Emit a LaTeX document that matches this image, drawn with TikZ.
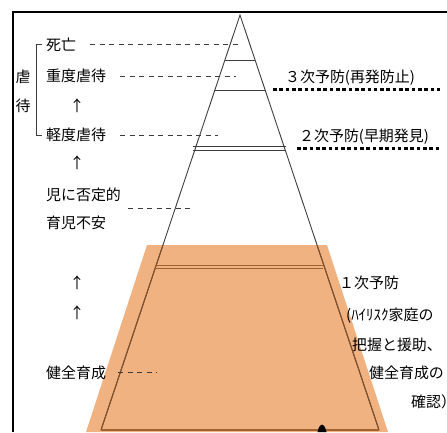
\documentclass[tikz,border=0pt]{standalone}
\usepackage{fontspec}
\setmainfont{Noto Sans CJK JP}
\definecolor{orangefill}{RGB}{240,178,128}
\definecolor{brownline}{RGB}{160,98,48}
\definecolor{edgebrown}{RGB}{130,80,42}
\definecolor{darkline}{RGB}{60,60,60}
\begin{document}
\begin{tikzpicture}[x=1bp,y=-1bp,
  lbl/.style={font=\fontsize{15}{15}\selectfont, inner sep=0pt, anchor=west, text height=13.2bp, text depth=1.8bp},
  guide/.style={dash pattern=on 5bp off 4.5bp, line width=0.8bp, darkline},
  level/.style={dash pattern=on 3.6bp off 2.7bp, line width=3bp, black},
  tri/.style={line width=0.9bp, darkline},
  frame/.style={line width=1.1bp, black}]
\useasboundingbox (0,0) rectangle (447,432);
% frame
\draw[frame] (13,432) -- (13,12) -- (447,12);
% orange base
\fill[orangefill] (147,245) -- (327,245) -- (388,432) -- (86,432) -- cycle;
% triangle
\coordinate (apex) at (240,15);
\coordinate (bl) at (101,430);
\coordinate (br) at (379,430);
\draw[tri] (bl) -- (apex) -- (br);
\begin{scope}
  \clip (147,245) -- (327,245) -- (388,432) -- (86,432) -- cycle;
  \draw[line width=1bp, edgebrown] (bl) -- (apex) -- (br);
\end{scope}
% horizontal levels
\draw[tri] (225,60) -- (255,60);
\draw[tri] (215,90) -- (265,90);
\draw[tri] (193,146) -- (286,146);
\draw[tri] (193,150) -- (286,150);
\draw[line width=1.3bp, brownline] (155,265.3) -- (323,265.3);
\draw[line width=1.3bp, brownline] (155,268.6) -- (323,268.6);
\draw[line width=1.4bp, brownline] (bl) -- (br);
% black tip at bottom
\fill[black] (317.5,432) .. controls (319,426) and (320.5,424.5) .. (322,424.5) .. controls (323.5,424.5) and (325,426) .. (326.5,432) -- cycle;
% left labels
\node[lbl] (shibo) at (46,45) {死亡};
\node[lbl] (judo) at (46,76) {重度虐待};
\node[lbl] (keido) at (46,135) {軽度虐待};
\node[lbl] (hitei) at (46,195) {児に否定的};
\node[lbl] (fuan) at (46,223) {育児不安};
\node[lbl] (kenzen) at (46,373) {健全育成};
\node[lbl, anchor=center] (g1) at (23,77) {虐};
\node[lbl, anchor=center] (g2) at (23,106) {待};
\node[lbl, anchor=center] (a1) at (77,106) {↑};
\node[lbl, anchor=center] (a2) at (77,163) {↑};
\node[lbl, anchor=center] (a3) at (77,283) {↑};
\node[lbl, anchor=center] (a4) at (77,313) {↑};
% bracket
\draw[line width=0.9bp, darkline] (42,44) -- (36,44) -- (36,135) -- (42,135);
% guide dashes
\coordinate (d1s) at (90,44);  \coordinate (d1e) at (238,44);
\coordinate (d2s) at (120,76); \coordinate (d2e) at (236,76);
\coordinate (d3s) at (120,135); \coordinate (d3e) at (218,135);
\coordinate (d4s) at (128,208); \coordinate (d4e) at (193,208);
\coordinate (d5s) at (118,372); \coordinate (d5e) at (157,372);
\draw[guide] (d1s) -- (d1e);
\draw[guide] (d2s) -- (d2e);
\draw[guide] (d3s) -- (d3e);
\draw[guide] (d4s) -- (d4e);
\draw[guide] (d5s) -- (d5e);
% right labels
\node[lbl] (p3) at (285,77) {３次予防(再発防止)};
\node[lbl] (p2) at (299,136) {２次予防(早期発見)};
\node[lbl] (p1) at (339,283) {１次予防};
\node[lbl] (p1a) at (346,315) {(ﾊｲﾘｽｸ家庭の};
\node[lbl] (p1b) at (352,345) {把握と援助、};
\node[lbl] (p1c) at (369,373) {健全育成の};
\node[lbl] (p1d) at (411,402) {確認）};
% level dotted lines
\coordinate (l3s) at (273,89); \coordinate (l3e) at (440,89);
\coordinate (l2s) at (297,148); \coordinate (l2e) at (440,148);
\draw[level] (l3s) -- (l3e);
\draw[level] (l2s) -- (l2e);
\end{tikzpicture}
\end{document}
